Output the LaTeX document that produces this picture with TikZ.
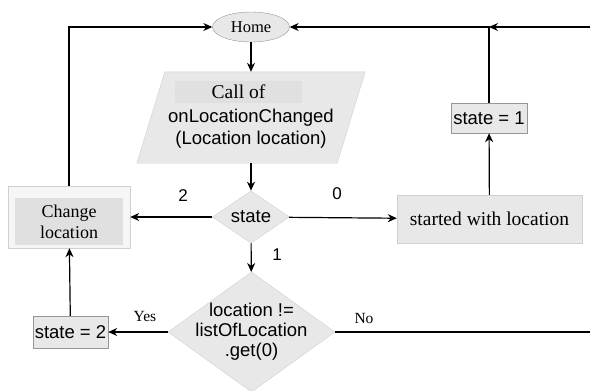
\documentclass[tikz,border=0pt]{standalone}
\usepackage{fontspec}
\setmainfont{Liberation Serif}
\setsansfont{Liberation Sans}
\usetikzlibrary{arrows.meta,positioning,shapes.geometric,calc}
\definecolor{flowFill}{RGB}{232,232,232}
\definecolor{flowLine}{RGB}{150,150,150}
\definecolor{softLine}{RGB}{208,208,208}
\definecolor{outerFill}{RGB}{246,246,246}
\definecolor{innerFill}{RGB}{224,224,224}
\newcommand{\codefont}{\sffamily\fontsize{18.5}{20}\selectfont}
\newcommand{\labelfont}{\rmfamily\fontsize{19.5}{21}\selectfont}

\tikzset{
    terminal/.style={ellipse, draw=flowLine, fill=flowFill, inner sep=0pt,
        minimum width=77pt, minimum height=30pt, font=\rmfamily\fontsize{16.5}{18}\selectfont},
    inputbox/.style={rectangle, inner sep=0pt, minimum width=200pt, minimum height=91pt},
    decision/.style={diamond, draw=softLine, fill=flowFill, inner sep=0pt},
    process/.style={rectangle, draw=flowLine, fill=flowFill, inner sep=0pt, font=\codefont},
    flow/.style={-{Stealth[length=9pt,width=8pt]}, line width=1.2pt},
    plainline/.style={line width=1.2pt},
    tag/.style={inner sep=0pt, font=\sffamily\fontsize{17}{19}\selectfont},
    small/.style={inner sep=0pt, font=\rmfamily\fontsize{15.5}{17}\selectfont}
}

\begin{document}
\begin{tikzpicture}[x=1pt,y=-1pt]
    \useasboundingbox (0,0) rectangle (590,391);

    % top of the flow
    \node[terminal] (home) at (251,27) {Home};
    \node[inputbox] (call) at (251,117.5) {};
    \draw[draw=softLine, fill=flowFill]
        ($(call.north west)+(14,0)$) -- ($(call.north east)+(14,0)$)
        -- ($(call.south east)+(-14,0)$) -- ($(call.south west)+(-14,0)$) -- cycle;
    \node[fill=innerFill, inner sep=0pt, minimum width=127pt, minimum height=22pt,
        font=\labelfont] (callA) at (238.5,92) {Call of};
    \node[font=\codefont, inner sep=0pt] (callB) at (251,118) {onLocationChanged};
    \node[font=\codefont, inner sep=0pt] (callC) at (251,140) {(Location location)};

    \node[decision, minimum width=77pt, minimum height=44pt, font=\codefont] (state) at (251,217) {state};

    % left branch
    \node[rectangle, draw=softLine, fill=outerFill, minimum width=122pt, minimum height=62pt] (change) at (69,217) {};
    \node[rectangle, fill=innerFill, minimum width=108pt, minimum height=47pt, align=center,
        font=\rmfamily\fontsize{18}{21}\selectfont] (changeText) at (69,221.5) {Change\\location};
    \node[process, minimum width=75pt, minimum height=32pt] (st2) at (70.5,332) {state = 2};

    % right branch
    \node[process, draw=softLine, minimum width=185pt, minimum height=48pt, font=\labelfont] (started) at (489.5,219) {started with location};
    \node[process, minimum width=76pt, minimum height=30pt] (st1) at (489,118) {state = 1};

    % check
    \node[decision, minimum width=167pt, minimum height=120pt] (cond) at (251.5,332) {};
    \node[align=center, inner sep=0pt, font=\codefont] (condText) at (251.5,332) {location !=\\listOfLocation\\.get(0)};

    \coordinate (edgeT) at (590,27);
    \coordinate (edgeR) at (590,332);
    \coordinate (join) at (489,27);

    % connectors
    \draw[flow] (home) -- (call);
    \draw[flow] (call) -- (state);
    \draw[flow] (state) -- (change);
    \draw[flow] (state) -- (started);
    \draw[flow] (state) -- (cond);
    \draw[flow] (cond) -- (st2);
    \draw[flow] (st2) -- (change);
    \draw[flow] (started) -- (st1);
    \draw[flow] (change.north) |- (home.west);
    \draw[flow] (st1.north) |- (home.east);
    \draw[flow] (edgeT) -- (join);
    \draw[plainline] (cond.east) -- (edgeR);

    % branch labels
    \node[tag] (lblTwo) at (183,196) {2};
    \node[tag] (lblZero) at (337,194) {0};
    \node[tag] (lblOne) at (277,255) {1};
    \node[small] (lblYes) at (145,316) {Yes};
    \node[small] (lblNo) at (364,318) {No};
\end{tikzpicture}
\end{document}
